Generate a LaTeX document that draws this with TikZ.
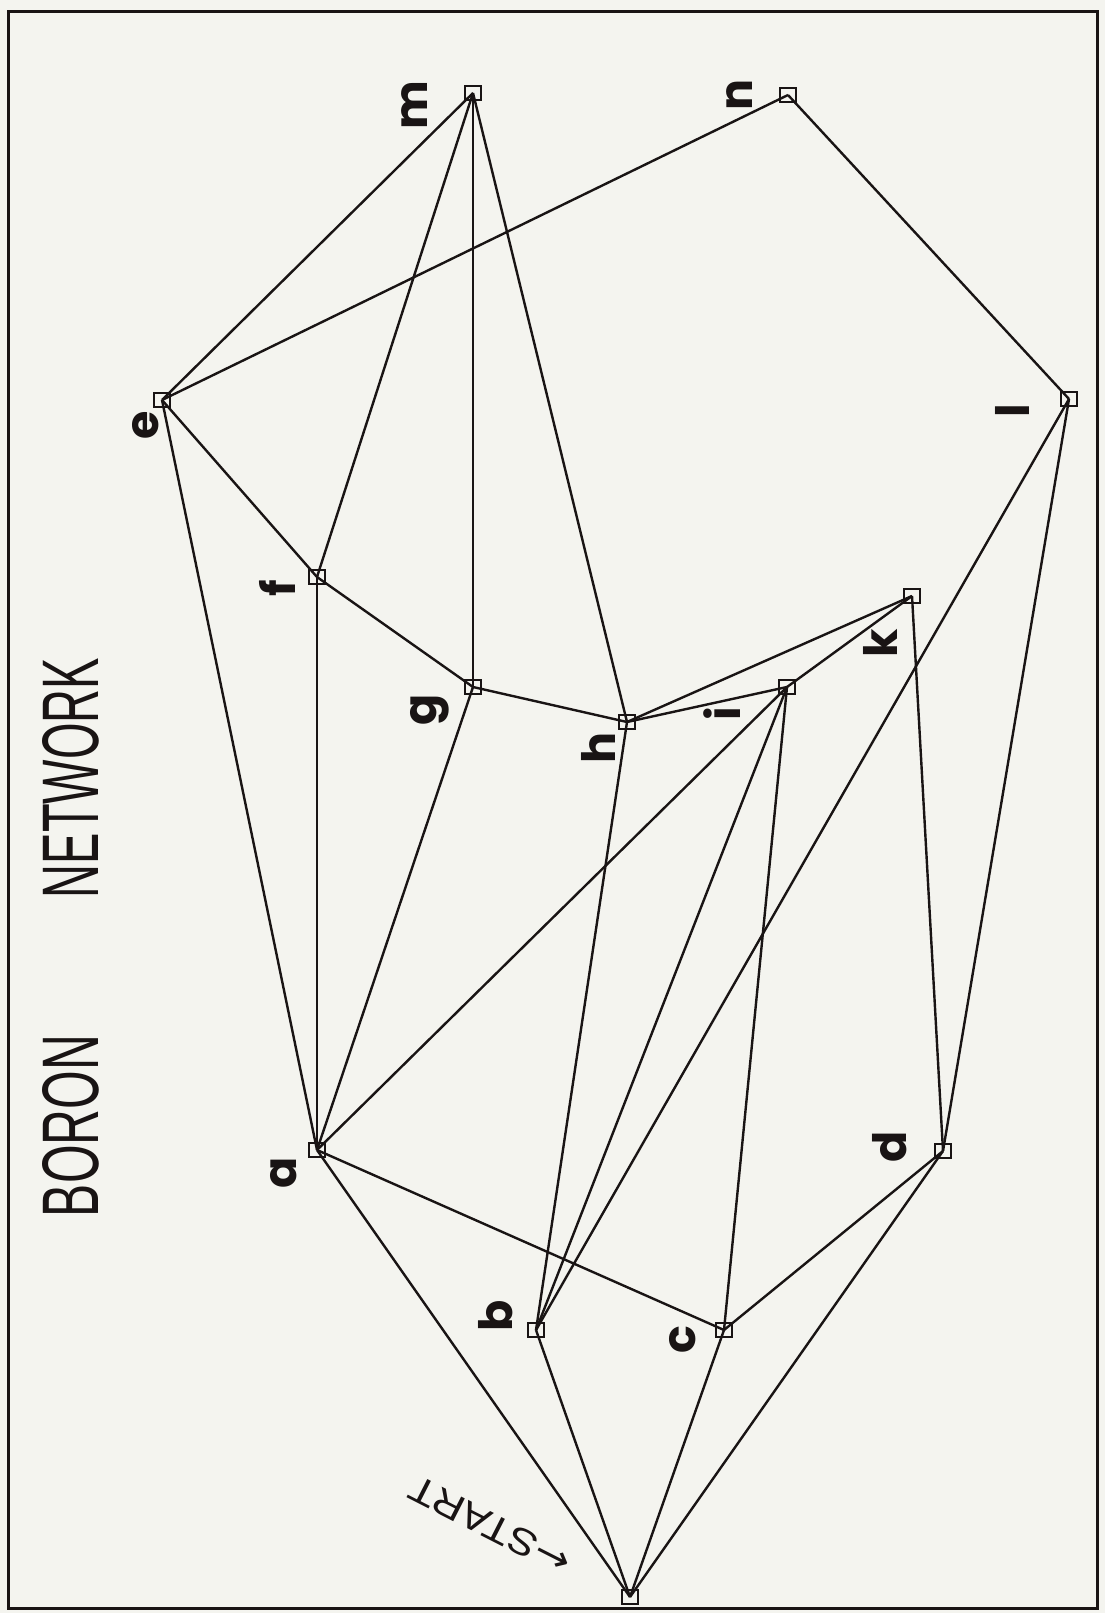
\documentclass[tikz,border=0pt]{standalone}
\usepackage{fontspec}
\newfontfamily\lblfont{Poppins}
\newfontfamily\titlefont{Liberation Sans}
\newfontfamily\arrowfont{DejaVu Sans}
\definecolor{paper}{RGB}{244,244,239}
\definecolor{ink}{RGB}{25,20,20}
\begin{document}
\begin{tikzpicture}[x=1pt,y=-1pt,
  vtx/.style={draw=ink,line width=1.9pt,minimum width=16pt,minimum height=14pt,inner sep=0pt},
  lbl/.style={rotate=90,text=ink,font=\lblfont\bfseries\fontsize{46}{48}\selectfont,inner sep=0pt},
  edge/.style={draw=ink,line width=2.4pt},
  ttl/.style={rotate=90,text=ink,inner sep=0pt}]
\useasboundingbox (0,0) rectangle (1105,1613);
\fill[paper] (0,0) rectangle (1105,1613);
\draw[ink,line width=3pt] (8,12) rectangle (1097,1608);
% title
\node[ttl] (t1) at (71,1126) {\resizebox{182pt}{56pt}{\titlefont BORON}};
\node[ttl] (t2) at (71,778) {\resizebox{240pt}{56pt}{\titlefont NETWORK}};
% vertices
\coordinate (m) at (473,93);
\coordinate (n) at (788,95);
\coordinate (e) at (162,400);
\coordinate (l) at (1069,399);
\coordinate (f) at (317,577);
\coordinate (k) at (912,596);
\coordinate (g) at (473,687);
\coordinate (h) at (627,722);
\coordinate (i) at (787,687);
\coordinate (a) at (317,1150);
\coordinate (d) at (943,1151);
\coordinate (b) at (536,1330);
\coordinate (c) at (724,1330);
\coordinate (s) at (630,1597);
% edges
\foreach \u/\v in {m/e,m/f,m/g,m/h,n/e,n/l,e/f,e/a,f/g,f/a,g/h,g/a,h/i,h/k,h/b,i/k,i/a,i/b,i/c,k/d,l/b,l/d,a/c,a/s,b/s,c/s,c/d,d/s}
  \draw[edge] (\u) -- (\v);
% vertex boxes
\foreach \v in {m,n,e,l,f,k,g,h,i,a,d,b,c,s}
  \node[vtx] (box\v) at (\v) {};
% labels
\node[lbl] (lm) at (415,105) {m};
\node[lbl] (ln) at (740,95) {n};
\node[lbl] (le) at (146,425) {e};
\node[lbl] (lf) at (277,588) {f};
\node[lbl] (lg) at (430,710) {g};
\node[lbl] (lh) at (598,748) {h};
\node[lbl] (li) at (722,714) {i};
\node[lbl] (lk) at (880,643) {k};
\node[lbl] (ll) at (1012,411) {l};
\node[lbl] (la) at (284,1173) {a};
\node[lbl] (ld) at (890,1147) {d};
\node[lbl] (lb) at (496,1316) {b};
\node[lbl] (lc) at (683,1340) {c};
% start
\node[rotate=153,text=ink,inner sep=0pt] (start) at (490,1526)
  {\resizebox{176pt}{26pt}{{\arrowfont ←}\titlefont START}};
\end{tikzpicture}
\end{document}
